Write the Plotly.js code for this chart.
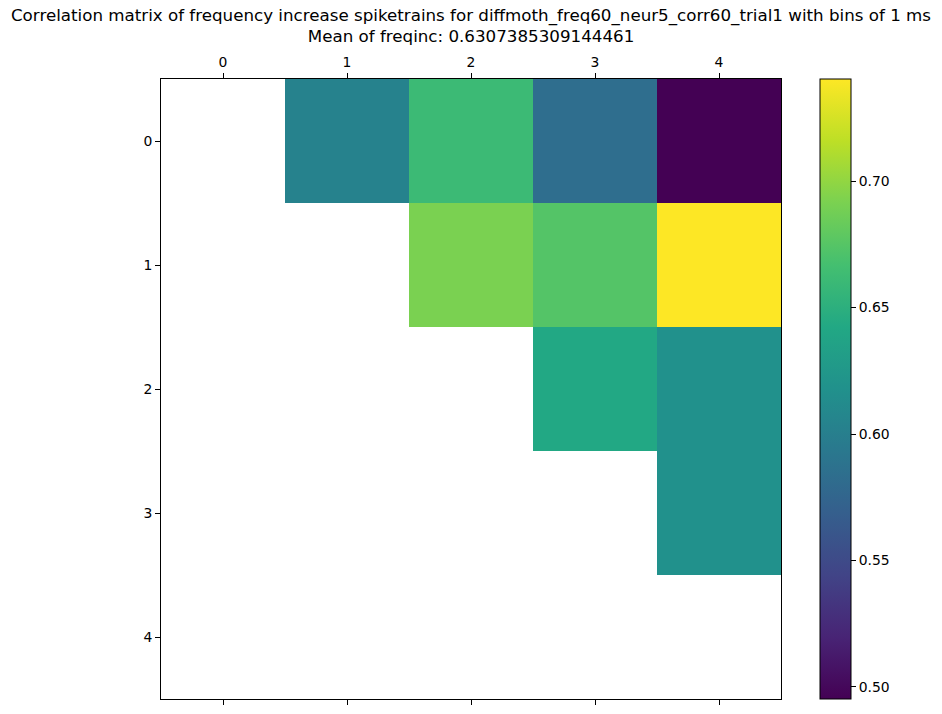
<!DOCTYPE html>
<html>
<head>
<meta charset="utf-8">
<script src="https://cdn.plot.ly/plotly-3.0.1.min.js"></script>
<style>
  body { margin: 0; padding: 0; background: #ffffff; }
  #myDiv { width: 942px; height: 714px; }
</style>
</head>
<body>
<div id="myDiv"></div>
<script>
// neuron indices on both axes
var neurons = [0, 1, 2, 3, 4];
var tickLabels = ['0', '1', '2', '3', '4'];

// one row per neuron, null where the matrix is left blank
var row0 = [null, 0.603, 0.661, 0.583, 0.4952];
var row1 = [null, null, 0.6914, 0.674, 0.7404];
var row2 = [null, null, null, 0.6423, 0.6178];
var row3 = [null, null, null, null, 0.6178];
var row4 = [null, null, null, null, null];

var cbTicks = [0.50, 0.55, 0.60, 0.65, 0.70];
var cbTickLabels = ['0.50', '0.55', '0.60', '0.65', '0.70'];

var titleText = 'Correlation matrix of frequency increase spiketrains for diffmoth_freq60_neur5_corr60_trial1 with bins of 1 ms' +
                '<br>Mean of freqinc: 0.6307385309144461';

var fontFam = 'DejaVu Sans, sans-serif';

// matplotlib viridis, sampled every 0.1
var viridis = [
  [0.0, '#440154'], [0.1, '#482475'], [0.2, '#414487'], [0.3, '#355f8d'],
  [0.4, '#2a788e'], [0.5, '#21918c'], [0.6, '#22a884'], [0.7, '#44bf70'],
  [0.8, '#7ad151'], [0.9, '#bddf26'], [1.0, '#fde725']
];

var trace = {
  type: 'heatmap',
  x: neurons,
  y: neurons,
  z: [row0, row1, row2, row3, row4],
  colorscale: viridis,
  hoverongaps: false,
  colorbar: {
    x: 1.0629,
    xanchor: 'left',
    xpad: 0,
    y: 0.5,
    yanchor: 'middle',
    ypad: 0,
    len: 1,
    thickness: 31,
    outlinewidth: 1,
    outlinecolor: '#000000',
    ticks: 'outside',
    ticklen: 5,
    tickwidth: 1,
    tickcolor: '#000000',
    tickvals: cbTicks,
    ticktext: cbTickLabels,
    tickfont: { family: fontFam, size: 13.9, color: '#000000' }
  }
};

var layout = {
  width: 942,
  height: 714,
  paper_bgcolor: '#ffffff',
  plot_bgcolor: '#ffffff',
  margin: { l: 161, r: 161, t: 79, b: 15, pad: 0 },
  title: {
    text: titleText,
    font: { family: fontFam, size: 16.7, color: '#000000' },
    x: 0.5,
    xref: 'paper',
    xanchor: 'center',
    y: 0.971,
    yref: 'container',
    yanchor: 'top'
  },
  xaxis: {
    side: 'top',
    range: [-0.5, 4.5],
    tickvals: neurons,
    ticktext: tickLabels,
    ticks: 'outside',
    ticklen: 5,
    tickwidth: 1,
    tickcolor: '#000000',
    showline: true,
    linecolor: '#000000',
    linewidth: 1,
    mirror: 'ticks',
    showgrid: false,
    zeroline: false,
    tickfont: { family: fontFam, size: 13.9, color: '#000000' }
  },
  yaxis: {
    range: [4.5, -0.5],
    tickvals: neurons,
    ticktext: tickLabels,
    ticks: 'outside',
    ticklen: 5,
    tickwidth: 1,
    tickcolor: '#000000',
    showline: true,
    linecolor: '#000000',
    linewidth: 1,
    mirror: true,
    showgrid: false,
    zeroline: false,
    tickfont: { family: fontFam, size: 13.9, color: '#000000' }
  }
};

var config = { displayModeBar: false, responsive: false };

Plotly.newPlot('myDiv', [trace], layout, config);
</script>
</body>
</html>
